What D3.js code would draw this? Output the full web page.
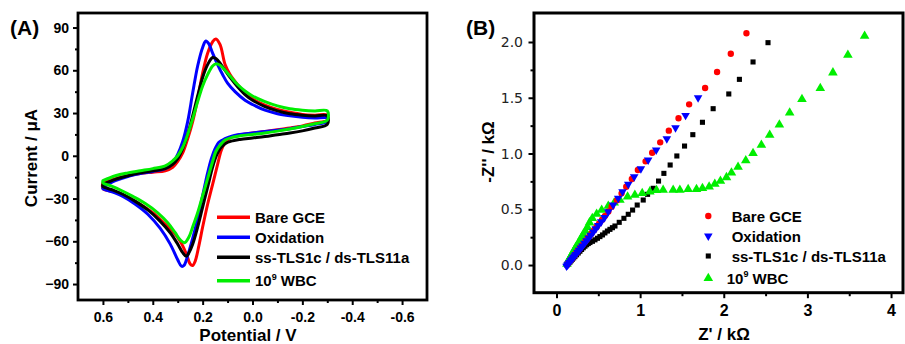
<!DOCTYPE html>
<html><head><meta charset="utf-8">
<script src="https://cdn.jsdelivr.net/npm/d3@7"></script>
<style>body{margin:0;background:#fff;} svg{display:block;}</style>
</head><body>
<svg id="chart" width="905" height="344"></svg>
<script>
// ---------------- DATA ----------------
const seriesLabels = ["Bare GCE", "Oxidation", "ss-TLS1c / ds-TLS11a", "10^9 WBC"];
const seriesColors = ["#ff0000", "#0000ff", "#000000", "#00ee00"];

// Panel A: cyclic voltammograms (E in V, I in µA), upper branch then return branch
const cvTicksX = [0.6, 0.4, 0.2, 0.0, -0.2, -0.4, -0.6];
const cvTicksY = [90, 60, 30, 0, -30, -60, -90];
const cvTickLabelsX = ["0.6", "0.4", "0.2", "0.0", "-0.2", "-0.4", "-0.6"];

const bareE = [0.60,0.55,0.50,0.45,0.40,0.35,0.32,0.30,0.28,0.26,0.24,0.22,0.20,0.18,0.16,0.147,0.13,0.11,0.09,0.06,0.03,0.00,-0.05,-0.10,-0.15,-0.20,-0.25,-0.30,
  -0.30,-0.25,-0.20,-0.15,-0.10,-0.05,0.00,0.04,0.07,0.09,0.11,0.125,0.14,0.16,0.18,0.20,0.215,0.23,0.24,0.25,0.265,0.29,0.32,0.35,0.40,0.45,0.50,0.55,0.60];
const bareI = [-19,-16,-14,-12.5,-11.5,-10.5,-8,-4,2,12,24,40,58,72,80,82,78,64,57,50,44,40,35.5,32.5,30.5,29,28.5,28.5,
  25,23,21,19.5,18.2,17,16,15,14,12.5,9,4,-6,-20,-34,-50,-63,-74,-77,-76,-69,-60,-53,-48,-40,-34,-29,-25.5,-23];

const oxE = [0.60,0.55,0.50,0.45,0.40,0.35,0.32,0.30,0.28,0.26,0.24,0.22,0.20,0.187,0.175,0.16,0.14,0.12,0.10,0.07,0.03,0.00,-0.05,-0.10,-0.15,-0.20,-0.25,-0.30,
  -0.30,-0.25,-0.20,-0.15,-0.10,-0.05,0.00,0.05,0.08,0.11,0.135,0.15,0.165,0.18,0.20,0.22,0.24,0.26,0.275,0.285,0.30,0.33,0.37,0.42,0.47,0.52,0.56,0.60];
const oxI = [-22,-17.5,-14.5,-12.5,-11,-9,-5,1,10,24,44,63,76,80.5,78.5,72,64,57,51,45,39,36,32,29.5,28,27,26.5,26.5,
  24,22,20.5,19,18,17,16,15,14,12,9.5,5,-2,-12,-28,-44,-58,-70,-77,-77.5,-73,-62,-51,-41,-34,-28.5,-25.5,-23];

const ssE = [0.60,0.55,0.50,0.45,0.40,0.35,0.32,0.30,0.28,0.26,0.24,0.22,0.20,0.18,0.16,0.145,0.13,0.11,0.09,0.06,0.03,0.00,-0.05,-0.10,-0.15,-0.20,-0.25,-0.30,
  -0.30,-0.25,-0.20,-0.15,-0.10,-0.05,0.00,0.05,0.08,0.11,0.13,0.145,0.16,0.18,0.20,0.22,0.24,0.255,0.266,0.28,0.30,0.33,0.37,0.42,0.47,0.52,0.56,0.60];
const ssI = [-20,-16.5,-14,-12,-10.5,-9,-6,-2,5,15,28,42,55,64,69,68,65,60,55,48.5,43,39,34.5,31.5,29.5,28.5,28,28,
  22,19.5,17.5,16,14.8,13.5,12.5,11.5,10.5,8.5,5,0,-8,-22,-36,-50,-62,-68,-70.5,-68,-62,-54,-46,-38,-32,-27,-24,-21.5];

const wbcE = [0.60,0.55,0.50,0.45,0.40,0.35,0.32,0.30,0.28,0.26,0.24,0.22,0.20,0.18,0.16,0.147,0.13,0.11,0.09,0.06,0.03,0.00,-0.05,-0.10,-0.15,-0.20,-0.25,-0.30,
  -0.30,-0.25,-0.20,-0.15,-0.10,-0.05,0.00,0.05,0.08,0.11,0.13,0.147,0.16,0.18,0.20,0.22,0.24,0.255,0.273,0.29,0.31,0.34,0.38,0.43,0.48,0.53,0.57,0.60];
const wbcI = [-17.5,-14,-12,-10.5,-9,-7,-3.5,0,6,15,26,38,49,57,63,64.5,63.5,60,56,50,45.5,42,38,35,33,32,31.5,31.5,
  25,22.5,20.5,18.8,17.3,16,15,14,13,11,7.5,3,-4,-16,-28,-40,-50,-57,-61,-59,-54,-47,-40,-33.5,-28.5,-24,-21,-19];

// Panel B: Nyquist plots (Z' and -Z'' in kΩ)
const eisTicksX = [0, 1, 2, 3, 4];
const eisTicksY = [0.0, 0.5, 1.0, 1.5, 2.0];

const bareZre = [0.13,0.14,0.15,0.165,0.18,0.195,0.21,0.225,0.24,0.26,0.28,0.30,0.32,0.345,0.37,0.395,0.42,0.45,0.48,0.51,0.545,0.58,0.62,0.659,0.722,0.778,0.834,0.901,0.973,1.065,1.144,1.24,1.343,1.459,1.586,1.777,1.92,2.084,2.271];
const bareZim = [0.005,0.015,0.024,0.039,0.053,0.068,0.082,0.097,0.112,0.131,0.150,0.170,0.189,0.213,0.238,0.262,0.286,0.315,0.344,0.373,0.407,0.441,0.48,0.523,0.58,0.643,0.702,0.771,0.852,0.93,1.007,1.1,1.205,1.316,1.441,1.587,1.731,1.895,2.078];

const oxZre = [0.12,0.13,0.14,0.155,0.17,0.185,0.2,0.215,0.23,0.25,0.27,0.29,0.31,0.335,0.36,0.385,0.41,0.44,0.47,0.5,0.535,0.575,0.619,0.678,0.738,0.79,0.858,0.929,1.009,1.096,1.192,1.319,1.423,1.543,1.693];
const oxZim = [-0.01,0.0,0.01,0.024,0.038,0.053,0.067,0.081,0.095,0.114,0.133,0.152,0.171,0.195,0.219,0.243,0.267,0.296,0.325,0.354,0.388,0.426,0.478,0.538,0.598,0.658,0.724,0.792,0.864,0.942,1.031,1.133,1.231,1.342,1.5];

const ssZre = [0.125,0.135,0.145,0.16,0.175,0.19,0.205,0.22,0.24,0.26,0.28,0.30,0.32,0.34,0.36,0.38,0.40,0.43,0.46,0.49,0.519,0.55,0.579,0.609,0.639,0.669,0.699,0.75,0.806,0.858,0.91,0.965,1.037,1.089,1.156,1.22,1.284,1.359,1.439,1.531,1.63,1.745,1.873,2.06,2.187,2.35,2.529];
const ssZim = [0.0,0.008,0.016,0.028,0.04,0.052,0.064,0.076,0.092,0.108,0.124,0.14,0.155,0.169,0.182,0.193,0.202,0.213,0.226,0.24,0.255,0.27,0.288,0.305,0.32,0.335,0.35,0.383,0.419,0.455,0.493,0.538,0.583,0.634,0.688,0.753,0.822,0.897,0.978,1.067,1.169,1.28,1.402,1.534,1.665,1.821,1.994];

const wbcZre = [0.125,0.135,0.145,0.155,0.165,0.18,0.195,0.21,0.225,0.24,0.26,0.28,0.30,0.32,0.345,0.37,0.395,0.428,0.48,0.54,0.619,0.69,0.758,0.85,0.937,1.025,1.116,1.196,1.275,1.395,1.475,1.574,1.674,1.745,1.825,1.893,1.96,2.032,2.092,2.171,2.263,2.35,2.45,2.549,2.665,2.788,2.935,3.154,3.305,3.484,3.684];
const wbcZim = [0.01,0.025,0.04,0.055,0.07,0.09,0.11,0.13,0.15,0.17,0.195,0.22,0.25,0.275,0.305,0.34,0.38,0.419,0.457,0.493,0.529,0.559,0.583,0.613,0.628,0.643,0.658,0.67,0.673,0.673,0.673,0.679,0.679,0.688,0.702,0.726,0.753,0.786,0.828,0.879,0.938,1.002,1.076,1.166,1.258,1.366,1.486,1.585,1.725,1.883,2.054];

// ---------------- DRAW ----------------
const svg = d3.select("#chart");
const FONT = "'Liberation Sans', Arial, sans-serif";
const zip = (a, b) => a.map((v, i) => [v, b[i]]);

// ----- Panel A -----
const xA = d3.scaleLinear().domain([0.7, -0.7]).range([78, 427]);
const yA = d3.scaleLinear().domain([-101.2, 100.2]).range([300, 13]);
const gA = svg.append("g");

const cvData = [zip(bareE, bareI), zip(oxE, oxI), zip(ssE, ssI), zip(wbcE, wbcI)];
const lineA = d3.line().x(d => xA(d[0])).y(d => yA(d[1])).curve(d3.curveCatmullRom.alpha(0.5));
cvData.forEach((pts, i) => {
  gA.append("path").attr("d", lineA(pts.concat([pts[0]])))
    .attr("fill", "none").attr("stroke", seriesColors[i]).attr("stroke-width", 3)
    .attr("stroke-linejoin", "round").attr("stroke-linecap", "round");
});

// minor ticks
gA.append("g").attr("transform", "translate(0,300)")
  .call(d3.axisBottom(xA).tickValues([0.5, 0.3, 0.1, -0.1, -0.3, -0.5]).tickSize(3).tickFormat(""))
  .call(g => g.select(".domain").remove()).selectAll("line").attr("stroke-width", 2);
gA.append("g").attr("transform", "translate(78,0)")
  .call(d3.axisLeft(yA).tickValues([75, 45, 15, -15, -45, -75]).tickSize(3).tickFormat(""))
  .call(g => g.select(".domain").remove()).selectAll("line").attr("stroke-width", 2);
// major ticks
const axAx = gA.append("g").attr("transform", "translate(0,300)")
  .call(d3.axisBottom(xA).tickValues(cvTicksX).tickSize(5).tickPadding(7)
    .tickFormat((d, i) => cvTickLabelsX[i]));
axAx.select(".domain").remove();
axAx.selectAll("line").attr("stroke-width", 2);
axAx.selectAll("text").attr("font-family", FONT).attr("font-weight", "bold").attr("font-size", 14).attr("fill", "#000");
const axAy = gA.append("g").attr("transform", "translate(78,0)")
  .call(d3.axisLeft(yA).tickValues(cvTicksY).tickSize(5).tickPadding(4).tickFormat(d3.format("d")));
axAy.select(".domain").remove();
axAy.selectAll("line").attr("stroke-width", 2);
axAy.selectAll("text").attr("font-family", FONT).attr("font-weight", "bold").attr("font-size", 14).attr("fill", "#000");

gA.append("rect").attr("x", 78).attr("y", 13).attr("width", 349).attr("height", 287)
  .attr("fill", "none").attr("stroke", "#000").attr("stroke-width", 2.8);

gA.append("text").attr("x", 10).attr("y", 35).text("(A)")
  .attr("font-family", FONT).attr("font-weight", "bold").attr("font-size", 21);
gA.append("text").attr("transform", "translate(36.5,158) rotate(-90)").attr("text-anchor", "middle")
  .text("Current / μA").attr("font-family", FONT).attr("font-weight", "bold").attr("font-size", 17);
gA.append("text").attr("x", 248).attr("y", 341).attr("text-anchor", "middle")
  .text("Potential / V").attr("font-family", FONT).attr("font-weight", "bold").attr("font-size", 17);

function labelText(sel, label) {
  const m = label.match(/^(.*)\^(\d+)(.*)$/);
  if (!m) { sel.text(label); return; }
  sel.append("tspan").text(m[1]);
  sel.append("tspan").text(m[2]).attr("font-size", 9).attr("dy", -6.5);
  sel.append("tspan").text(m[3]).attr("dy", 6.5);
}

const legARows = [217.3, 237.3, 257.3, 280.7];
seriesLabels.forEach((lab, i) => {
  gA.append("line").attr("x1", 217).attr("x2", 250).attr("y1", legARows[i]).attr("y2", legARows[i])
    .attr("stroke", seriesColors[i]).attr("stroke-width", 3.5);
  const t = gA.append("text").attr("x", 255).attr("y", legARows[i] + 5.4)
    .attr("font-family", FONT).attr("font-weight", "bold").attr("font-size", 15);
  labelText(t, lab);
});

// ----- Panel B -----
const xB = d3.scaleLinear().domain([-0.269, 4.143]).range([534, 903]);
const yB = d3.scaleLinear().domain([-0.248, 2.26]).range([292.7, 13]);
const gB = svg.append("g");

const eisData = [zip(bareZre, bareZim), zip(oxZre, oxZim), zip(ssZre, ssZim), zip(wbcZre, wbcZim)];
const symbols = [
  d3.symbol().type(d3.symbolCircle).size(32),
  d3.symbol().type(d3.symbolTriangle).size(32),
  d3.symbol().type(d3.symbolSquare).size(26),
  d3.symbol().type(d3.symbolTriangle).size(40)
];
const rot = [0, 180, 0, 0];
const drawOrder = [2, 3, 0, 1];
drawOrder.forEach(i => {
  gB.append("g").selectAll("path").data(eisData[i]).join("path")
    .attr("d", symbols[i]())
    .attr("transform", d => `translate(${xB(d[0])},${yB(d[1])}) rotate(${rot[i]})`)
    .attr("fill", seriesColors[i]);
});

gB.append("g").attr("transform", "translate(0,292.7)")
  .call(d3.axisBottom(xB).tickValues([0.5, 1.5, 2.5, 3.5]).tickSize(3.5).tickFormat(""))
  .call(g => g.select(".domain").remove()).selectAll("line").attr("stroke-width", 2);
gB.append("g").attr("transform", "translate(534,0)")
  .call(d3.axisLeft(yB).tickValues([0.25, 0.75, 1.25, 1.75]).tickSize(3.5).tickFormat(""))
  .call(g => g.select(".domain").remove()).selectAll("line").attr("stroke-width", 2);
const axBx = gB.append("g").attr("transform", "translate(0,292.7)")
  .call(d3.axisBottom(xB).tickValues(eisTicksX).tickSize(5.5).tickPadding(6.5).tickFormat(d3.format("d")));
axBx.select(".domain").remove();
axBx.selectAll("line").attr("stroke-width", 2);
axBx.selectAll("text").attr("font-family", FONT).attr("font-weight", "bold").attr("font-size", 16).attr("fill", "#000");
const axBy = gB.append("g").attr("transform", "translate(534,0)")
  .call(d3.axisLeft(yB).tickValues(eisTicksY).tickSize(5.5).tickPadding(5.5).tickFormat(d3.format(".1f")));
axBy.select(".domain").remove();
axBy.selectAll("line").attr("stroke-width", 2);
axBy.selectAll("text").attr("font-family", "'DejaVu Sans', sans-serif").attr("font-size", 14).attr("fill", "#222");

gB.append("rect").attr("x", 534).attr("y", 13).attr("width", 369).attr("height", 279.7)
  .attr("fill", "none").attr("stroke", "#000").attr("stroke-width", 3);

gB.append("text").attr("x", 466).attr("y", 35).text("(B)")
  .attr("font-family", FONT).attr("font-weight", "bold").attr("font-size", 21);
gB.append("text").attr("transform", "translate(494,152) rotate(-90)").attr("text-anchor", "middle")
  .text("-Z'' / kΩ").attr("font-family", FONT).attr("font-weight", "bold").attr("font-size", 17);
gB.append("text").attr("x", 724).attr("y", 340).attr("text-anchor", "middle")
  .text("Z' / kΩ").attr("font-family", FONT).attr("font-weight", "bold").attr("font-size", 17);

const legBRows = [216, 236, 256, 278.3];
const legBTextX = [731.7, 731.7, 731.7, 726.7];
seriesLabels.forEach((lab, i) => {
  gB.append("path").attr("d", symbols[i]())
    .attr("transform", `translate(708.3,${legBRows[i]}) rotate(${rot[i]})`)
    .attr("fill", seriesColors[i]);
  const t = gB.append("text").attr("x", legBTextX[i]).attr("y", legBRows[i] + 5.6)
    .attr("font-family", FONT).attr("font-weight", "bold").attr("font-size", 15);
  labelText(t, lab);
});
</script>
</body></html>
